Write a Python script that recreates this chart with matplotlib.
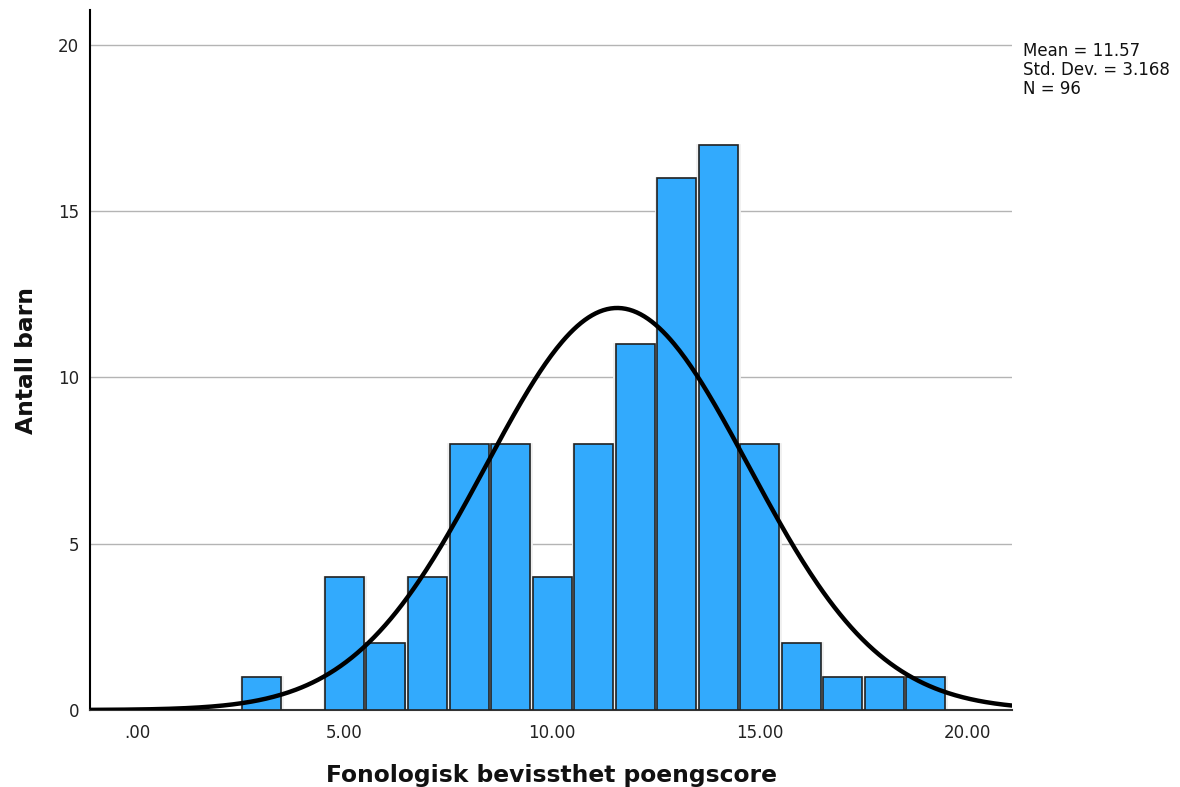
import numpy as np
import matplotlib
matplotlib.use("Agg")
import matplotlib.pyplot as plt

# Data
bin_centers = [3, 5, 6, 7, 8, 9, 10, 11, 12, 13, 14, 15, 16, 17, 18, 19]
counts = [1, 4, 2, 4, 8, 8, 4, 8, 11, 16, 17, 8, 2, 1, 1, 1]
mean_val = 11.57
std_val = 3.168
n_val = 96
x_ticks = [0, 5, 10, 15, 20]
x_tick_labels = [".00", "5.00", "10.00", "15.00", "20.00"]
y_ticks = [0, 5, 10, 15, 20]

fig = plt.figure(figsize=(11.8, 7.87), dpi=100)
ax = fig.add_axes([90/1180, 1-710/787, (1012-90)/1180, (710-10)/787])

ax.set_xlim(-1.13, 21.08)
ax.set_ylim(0, 21.05)

for y in y_ticks[1:]:
    ax.axhline(y, color="#b4b4b4", lw=1.0, zorder=0)

ax.bar(bin_centers, counts, width=1.0, color="#32aafd", edgecolor="#f0f0f0",
       linewidth=2.0, zorder=2)
ax.bar(bin_centers, counts, width=0.94, color="#32aafd", edgecolor="#222222",
       linewidth=1.2, zorder=3)

xs = np.linspace(-1.2, 21.2, 500)
pdf = n_val * 1.0 / (std_val * np.sqrt(2 * np.pi)) * np.exp(-0.5 * ((xs - mean_val) / std_val) ** 2)
ax.plot(xs, pdf, color="black", lw=3.2, zorder=4, solid_capstyle="butt")

for s in ["top", "right"]:
    ax.spines[s].set_visible(False)
ax.spines["left"].set_linewidth(1.5)
ax.spines["bottom"].set_linewidth(1.5)
ax.spines["bottom"].set_color("#333333")
ax.spines["left"].set_color("black")

ax.set_xticks(x_ticks)
ax.set_xticklabels(x_tick_labels)
ax.set_yticks(y_ticks)
ax.tick_params(axis="both", length=0, labelsize=12, colors="#222222")
ax.tick_params(axis="x", pad=10)
ax.tick_params(axis="y", pad=8)

ax.set_xlabel("Fonologisk bevissthet poengscore", fontsize=16.8, fontweight="bold",
              labelpad=16, color="#111111")
ax.set_ylabel("Antall barn", fontsize=16.8, fontweight="bold", labelpad=14, color="#111111")

fig.text(1023/1180, 1-70/787, f"Mean = {mean_val:.2f}\nStd. Dev. = {std_val:.3f}\nN = {n_val}",
         fontsize=12, va="center", ha="left", color="#111111", linespacing=1.08)

fig.savefig("out.png", dpi=100, facecolor="white")
